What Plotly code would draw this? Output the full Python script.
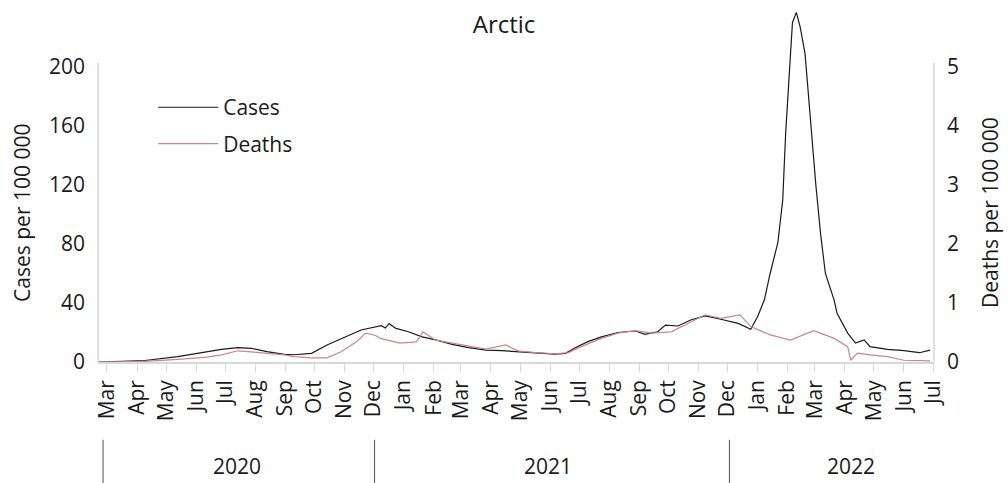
import plotly.graph_objects as go

# ---- data ----
cases_dates = ["2020-02-21", "2020-04-09", "2020-05-13", "2020-05-30", "2020-06-10", "2020-06-27",
               "2020-07-14", "2020-07-28", "2020-08-13", "2020-08-31", "2020-09-10", "2020-09-28",
               "2020-10-14", "2020-11-01", "2020-11-18", "2020-12-09", "2020-12-13", "2020-12-17",
               "2020-12-24", "2021-01-06", "2021-01-13", "2021-01-20", "2021-02-03", "2021-02-20",
               "2021-03-09", "2021-03-27", "2021-04-12", "2021-04-29", "2021-05-17", "2021-06-06",
               "2021-06-17", "2021-06-27", "2021-07-10", "2021-07-24", "2021-08-10", "2021-08-28",
               "2021-09-07", "2021-09-20", "2021-09-28", "2021-10-11", "2021-10-24", "2021-11-08",
               "2021-11-24", "2021-12-12", "2021-12-25", "2022-01-01", "2022-01-08", "2022-01-14",
               "2022-01-22", "2022-01-27", "2022-01-30", "2022-02-03", "2022-02-06", "2022-02-10",
               "2022-02-14", "2022-02-19", "2022-02-25", "2022-03-02", "2022-03-07", "2022-03-12",
               "2022-03-21", "2022-03-24", "2022-04-04", "2022-04-12", "2022-04-21", "2022-04-27",
               "2022-05-15", "2022-06-01", "2022-06-17", "2022-06-28"]
cases_values = [0, 1, 3.6, 5.4, 7, 8.6,
                9.7, 9.3, 7, 5.2, 4.9, 5.9,
                11.5, 17, 21.7, 24.6, 23, 26,
                22.8, 20.5, 19, 17, 15, 12,
                9.7, 8.1, 7.7, 7, 6.3, 5.4,
                5.9, 9.7, 13.8, 17, 20, 21,
                18.8, 20.5, 25, 24.4, 28.5, 31.2,
                29, 26.2, 22.2, 30.7, 42, 60,
                81, 110, 155, 200, 230, 237,
                227, 209, 159, 121, 87, 60,
                42, 33, 19.6, 12.8, 15, 10.4,
                8.6, 7.7, 6.3, 8.1]

deaths_dates = ["2020-02-21", "2020-04-09", "2020-05-13", "2020-06-10", "2020-06-27", "2020-07-14",
                "2020-07-28", "2020-08-13", "2020-08-31", "2020-09-10", "2020-09-28", "2020-10-14",
                "2020-10-28", "2020-11-13", "2020-11-23", "2020-12-03", "2020-12-08", "2020-12-28",
                "2021-01-14", "2021-01-21", "2021-02-03", "2021-02-20", "2021-03-09", "2021-03-27",
                "2021-04-16", "2021-04-29", "2021-05-17", "2021-06-06", "2021-06-20", "2021-07-03",
                "2021-07-24", "2021-08-10", "2021-08-28", "2021-09-13", "2021-10-04", "2021-11-08",
                "2021-11-24", "2021-12-14", "2021-12-25", "2022-01-14", "2022-02-04", "2022-02-28",
                "2022-03-21", "2022-04-04", "2022-04-07", "2022-04-14", "2022-04-27", "2022-05-15",
                "2022-06-01", "2022-06-28"]
deaths_values = [0, 0.01, 0.046, 0.08, 0.12, 0.19,
                 0.17, 0.15, 0.12, 0.09, 0.07, 0.07,
                 0.17, 0.34, 0.49, 0.45, 0.40, 0.32,
                 0.34, 0.51, 0.37, 0.32, 0.27, 0.22,
                 0.29, 0.19, 0.16, 0.14, 0.16, 0.26,
                 0.40, 0.49, 0.53, 0.49, 0.51, 0.80,
                 0.74, 0.80, 0.60, 0.46, 0.37, 0.53,
                 0.40, 0.26, 0.03, 0.15, 0.12, 0.09,
                 0.03, 0.02]

month_ticks = ["2020-03-01", "2020-04-01", "2020-05-01", "2020-06-01", "2020-07-01", "2020-08-01",
               "2020-09-01", "2020-10-01", "2020-11-01", "2020-12-01", "2021-01-01", "2021-02-01",
               "2021-03-01", "2021-04-01", "2021-05-01", "2021-06-01", "2021-07-01", "2021-08-01",
               "2021-09-01", "2021-10-01", "2021-11-01", "2021-12-01", "2022-01-01", "2022-02-01",
               "2022-03-01", "2022-04-01", "2022-05-01", "2022-06-01", "2022-07-01"]
month_labels = ["Mar", "Apr", "May", "Jun", "Jul", "Aug", "Sep", "Oct", "Nov", "Dec",
                "Jan", "Feb", "Mar", "Apr", "May", "Jun", "Jul", "Aug", "Sep", "Oct", "Nov", "Dec",
                "Jan", "Feb", "Mar", "Apr", "May", "Jun", "Jul"]

year_labels = ["2020", "2021", "2022"]
year_label_pos = ["2020-07-13", "2021-05-30", "2022-04-07"]
year_separators = ["2020-02-26", "2020-12-02", "2021-12-03"]

cases_ticks = [0, 40, 80, 120, 160, 200]
deaths_ticks = [0, 1, 2, 3, 4, 5]

FONT = "Open Sans"
FS = 21
TXT = "#1a1a1a"
AXIS = "#d9d9d9"

fig = go.Figure()
fig.add_trace(go.Scatter(x=cases_dates, y=cases_values, name="Cases", mode="lines",
                         line=dict(color="#1a1a1a", width=1.2), yaxis="y", legendgroup="a"))
fig.add_trace(go.Scatter(x=deaths_dates, y=deaths_values, name="Deaths", mode="lines",
                         line=dict(color="#c98591", width=1.2), yaxis="y2", legendgroup="b"))

shapes = []
# axis lines (stop at the top tick like the reference)
shapes.append(dict(type="line", xref="paper", yref="y", x0=0, x1=0, y0=0, y1=203,
                   line=dict(color=AXIS, width=1.5)))
shapes.append(dict(type="line", xref="paper", yref="y", x0=1, x1=1, y0=0, y1=203,
                   line=dict(color=AXIS, width=1.5)))
for d in year_separators:
    shapes.append(dict(type="line", xref="x", yref="paper", x0=d, x1=d, y0=-0.218, y1=-0.345,
                       line=dict(color="#555555", width=1)))

annotations = []
for lab, pos in zip(year_labels, year_label_pos):
    annotations.append(dict(text=lab, x=pos, xref="x", y=-0.291, yref="paper",
                            showarrow=False, font=dict(family=FONT, size=FS, color=TXT),
                            xanchor="center", yanchor="middle"))
# axis titles, centred on the 0-200 tick span
annotations.append(dict(text="Cases per 100 000", x=-0.091, xref="paper", y=101, yref="y",
                        textangle=-90, showarrow=False, xanchor="center", yanchor="middle",
                        font=dict(family=FONT, size=FS, color=TXT)))
annotations.append(dict(text="Deaths per 100 000", x=1.067, xref="paper", y=101, yref="y",
                        textangle=-90, showarrow=False, xanchor="center", yanchor="middle",
                        font=dict(family=FONT, size=FS, color=TXT)))

fig.update_layout(
    width=1008, height=483,
    margin=dict(l=98, r=74, t=5, b=121),
    paper_bgcolor="white", plot_bgcolor="white",
    font=dict(family=FONT, size=FS, color=TXT),
    title=dict(text="Arctic", x=0.5, xanchor="center", y=1 - 25 / 483, yanchor="middle",
               yref="container", font=dict(family=FONT, size=24, color=TXT)),
    xaxis=dict(type="date", range=["2020-02-20 18:00", "2022-07-02"],
               tickvals=month_ticks, ticktext=month_labels, tickangle=-90,
               ticks="outside", ticklen=8, tickcolor=AXIS, showgrid=False,
               showline=True, linecolor=AXIS, linewidth=1.5,
               tickfont=dict(family=FONT, size=FS, color=TXT), zeroline=False),
    yaxis=dict(range=[0, 242], tickvals=cases_ticks, showgrid=False, zeroline=False,
               showline=False, ticks="", ticklabelstandoff=12,
               tickfont=dict(family=FONT, size=FS, color=TXT)),
    yaxis2=dict(range=[0, 6.05], tickvals=deaths_ticks, overlaying="y", side="right",
                showgrid=False, zeroline=False, showline=False, ticks="", ticklabelstandoff=12,
                tickfont=dict(family=FONT, size=FS, color=TXT)),
    legend=dict(x=0.066, y=0.77, xanchor="left", yanchor="top", bgcolor="rgba(0,0,0,0)",
                font=dict(family=FONT, size=FS, color=TXT), tracegroupgap=6, itemwidth=60),
    shapes=shapes, annotations=annotations,
)

fig.write_html("out.html", config={"displayModeBar": False},
               post_script="document.body.style.margin='0px';")
